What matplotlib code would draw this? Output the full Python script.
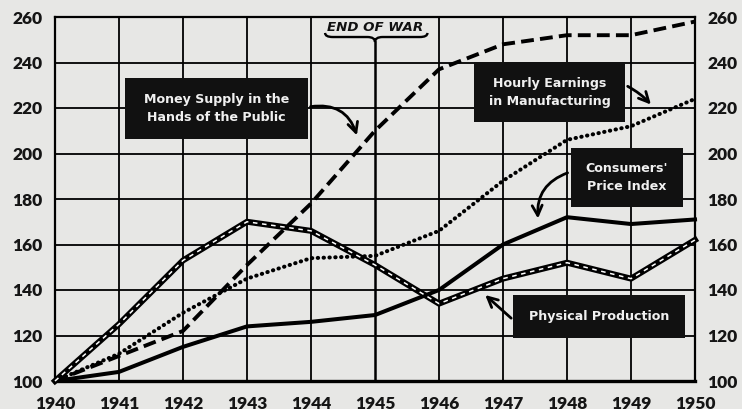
import matplotlib
matplotlib.use("Agg")
import matplotlib.pyplot as plt
from matplotlib.patches import Rectangle, PathPatch
from matplotlib.path import Path

years = [1940, 1941, 1942, 1943, 1944, 1945, 1946, 1947, 1948, 1949, 1950]
money_supply = [100, 111, 122, 151, 178, 210, 237, 248, 252, 252, 258]
hourly_earnings = [100, 112, 130, 145, 154, 155, 166, 188, 206, 212, 224]
consumer_prices = [100, 104, 115, 124, 126, 129, 140, 160, 172, 169, 171]
physical_production = [100, 125, 153, 170, 166, 151, 134, 145, 152, 145, 162]
y_ticks = [100, 120, 140, 160, 180, 200, 220, 240, 260]

bg = "#e7e7e5"
font = "Lato"
box_font = "DejaVu Sans"

fig = plt.figure(figsize=(7.42, 4.09), dpi=100, facecolor=bg)
ax = fig.add_axes([55 / 742, 28 / 409, 640 / 742, 364 / 409], facecolor=bg)
ax.set_xlim(1940, 1950)
ax.set_ylim(100, 260)

# grid (1945 line drawn separately, it starts under the brace)
for y in y_ticks:
    ax.axhline(y, color="black", lw=1.3, zorder=1)
for x in years:
    if x != 1945:
        ax.axvline(x, color="black", lw=1.3, zorder=1)
ax.plot([1945, 1945], [100, 249], color="black", lw=1.8, zorder=1)

for s in ax.spines.values():
    s.set_linewidth(1.6)
ax.spines["bottom"].set_linewidth(2.4)

ax.set_xticks(years)
ax.set_yticks(y_ticks)
ax.tick_params(length=0)
ax.tick_params(axis="x", pad=11)
ax.tick_params(axis="y", pad=9, left=True, right=True, labelleft=True, labelright=True)
for lab in ax.get_xticklabels() + ax.get_yticklabels():
    lab.set_fontfamily(font)
    lab.set_fontweight("heavy")
    lab.set_fontsize(12.5)
    lab.set_color("#151515")

# series
ax.plot(years, money_supply, color="black", lw=2.8, dashes=(3.3, 1.6), zorder=4, clip_on=False)
ax.plot(years, hourly_earnings, color="black", lw=2.9, linestyle=(0, (0.1, 1.35)),
        dash_capstyle="round", zorder=4, clip_on=False)
ax.plot(years, consumer_prices, color="black", lw=2.9, zorder=4, clip_on=False)
ax.plot(years, physical_production, color="black", lw=4.3, zorder=4, clip_on=False)
ax.plot(years, physical_production, color="white", lw=1.1, dashes=(3, 3), zorder=5, clip_on=False)

# END OF WAR brace
ax.text(1945.0, 255.5, "END OF WAR", ha="center", va="center", fontfamily=box_font,
        fontweight="bold", fontstyle="italic", fontsize=9.6, color="#111111", zorder=6)
x0, xc, x1 = 1944.22, 1945.0, 1945.82
yt, ym, yb = 253.0, 251.2, 249.0
verts = [(x0, yt), (x0, ym), (x0 + 0.12, ym), (xc - 0.12, ym), (xc, ym), (xc, yb),
         (xc, ym), (xc + 0.12, ym), (x1 - 0.12, ym), (x1, ym), (x1, yt)]
codes = [Path.MOVETO, Path.CURVE3, Path.CURVE3, Path.LINETO, Path.CURVE3, Path.CURVE3,
         Path.CURVE3, Path.CURVE3, Path.LINETO, Path.CURVE3, Path.CURVE3]
ax.add_patch(PathPatch(Path(verts, codes), fill=False, lw=1.7, color="black", zorder=6))

# label boxes
def label_box(x0, x1, y0, y1, text):
    ax.add_patch(Rectangle((x0, y0), x1 - x0, y1 - y0, facecolor="#111111",
                           edgecolor="none", zorder=7))
    ax.text((x0 + x1) / 2, (y0 + y1) / 2, text, ha="center", va="center", color="#f0f0f0",
            fontfamily=box_font, fontweight="bold", fontsize=9.1, linespacing=1.5, zorder=8)

label_box(1941.09, 1943.95, 206.4, 233.2, "Money Supply in the\nHands of the Public")
label_box(1946.55, 1948.91, 213.8, 240.2, "Hourly Earnings\nin Manufacturing")
label_box(1948.06, 1949.81, 176.5, 202.4, "Consumers'\nPrice Index")
label_box(1947.16, 1949.84, 118.9, 137.8, "Physical Production")

arrow = dict(arrowstyle="->", color="black", lw=2.0, mutation_scale=18)
ax.annotate("", xy=(1944.73, 206.8), xytext=(1943.95, 220.4),
            arrowprops=dict(arrow, connectionstyle="arc3,rad=-0.45"), zorder=9)
ax.annotate("", xy=(1949.34, 220.6), xytext=(1948.91, 230.1),
            arrowprops=dict(arrow, connectionstyle="arc3,rad=-0.1"), zorder=9)
ax.annotate("", xy=(1947.55, 170.2), xytext=(1948.05, 191.9),
            arrowprops=dict(arrow, connectionstyle="arc3,rad=0.4"), zorder=9)
ax.annotate("", xy=(1946.69, 138.6), xytext=(1947.16, 126.8),
            arrowprops=dict(arrow), zorder=9)

fig.savefig("out.png", dpi=100, facecolor=bg)
